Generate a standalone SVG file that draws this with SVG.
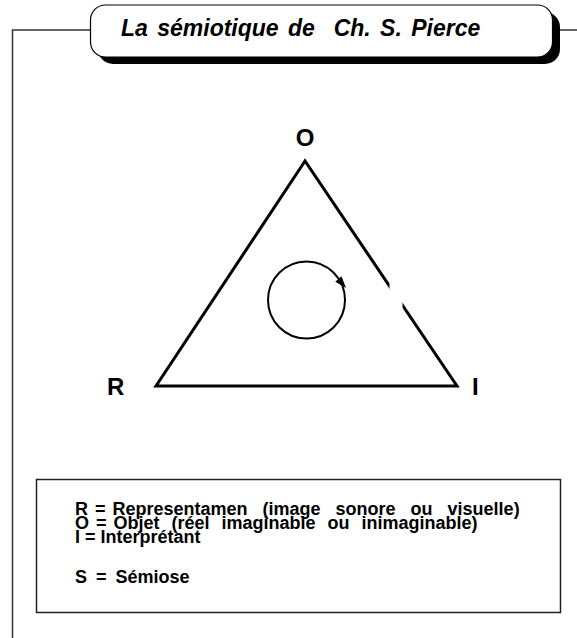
<svg xmlns="http://www.w3.org/2000/svg" width="577" height="638" viewBox="0 0 577 638">
<style>
.frame{fill:none;stroke:#333;stroke-width:1.5}
.tri{fill:none;stroke:#000;stroke-width:3;stroke-linejoin:miter}
.lbl{font-family:"Liberation Sans",Arial,sans-serif;font-weight:bold;font-size:24px;fill:#000}
.title{font-family:"Liberation Sans",Arial,sans-serif;font-weight:bold;font-style:italic;font-size:23px;fill:#000;white-space:pre;word-spacing:3px}
.leg{font-family:"Liberation Sans",Arial,sans-serif;font-weight:bold;font-size:18px;fill:#000}
</style>
<rect width="577" height="638" fill="#fff"/>
<g id="frame">
<path class="frame" d="M12.5,638 V30 H90 M560,30 H577"/>
</g>
<g id="title">
<rect x="98" y="12" width="462" height="52" rx="15" fill="#000"/>
<rect x="90.5" y="5" width="462" height="52" rx="15" fill="#fff" stroke="#000" stroke-width="1.2"/>
<text class="title" x="121" y="36">La sémiotique de  Ch. S. Pierce</text>
</g>
<g id="connectors">
<polygon class="tri" points="305,161 156,386 457,386"/>
<rect x="389.5" y="272" width="13" height="42" fill="#fff"/>
</g>
<g id="node-O"><text class="lbl" x="305" y="146" text-anchor="middle">O</text></g>
<g id="node-R"><text class="lbl" x="107" y="395">R</text></g>
<g id="node-I"><text class="lbl" x="472" y="395">I</text></g>
<g id="semiose">
<circle cx="306.5" cy="300" r="38.5" fill="none" stroke="#000" stroke-width="2"/>
<polygon points="346,288 335.3,281.7 341.5,276.3" fill="#000"/>
</g>
<g id="legend">
<rect x="36.5" y="479.5" width="524" height="133" fill="none" stroke="#222" stroke-width="1.5"/>
<text class="leg" x="75" y="515"><tspan style="word-spacing:2px">R = </tspan><tspan style="word-spacing:10px">Representamen (image sonore ou visuelle)</tspan></text>
<text class="leg" x="75" y="529"><tspan style="word-spacing:2px">O = </tspan><tspan style="word-spacing:7px">Objet (réel imaginable ou inimaginable)</tspan></text>
<text class="leg" x="75" y="542.5">I = Interprétant</text>
<text class="leg" x="75" y="583" style="word-spacing:4px">S = Sémiose</text>
</g>
</svg>
